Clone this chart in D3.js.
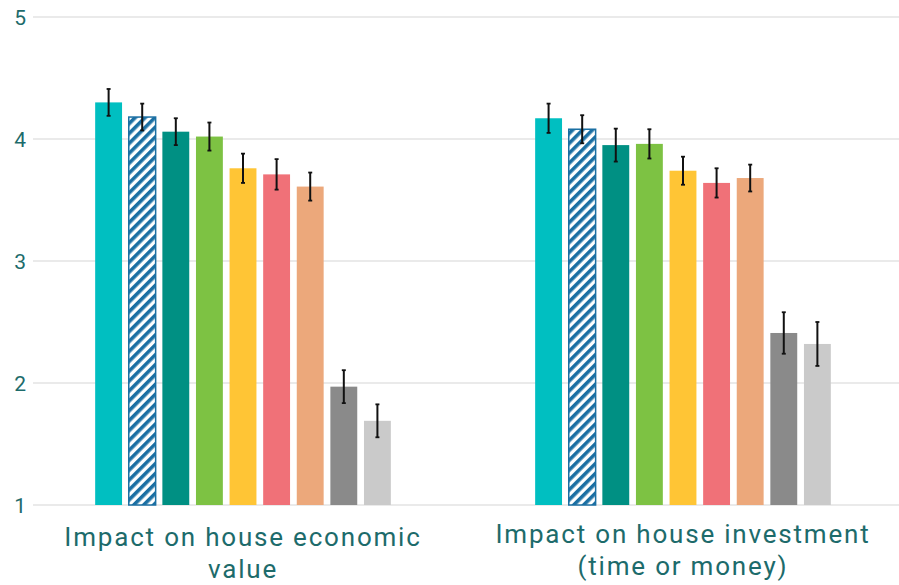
<!DOCTYPE html>
<html>
<head>
<meta charset="utf-8">
<script src="https://cdn.jsdelivr.net/npm/d3@7"></script>
<style>
  html, body { margin: 0; padding: 0; background: #fff; }
  svg { display: block; }
  text { font-family: Roboto, "Open Sans", sans-serif; fill: #1d6b6b; }
</style>
</head>
<body>
<svg id="chart" width="899" height="585"></svg>
<script>
// Impact ratings (scale 1–5), nine respondent groups per question
const categories = [
  ["Impact on house economic", "value"],
  ["Impact on house investment", "(time or money)"]
];
const seriesKeys = ["s1", "s2", "s3", "s4", "s5", "s6", "s7", "s8", "s9"];
const economicValue   = [4.30, 4.18, 4.06, 4.02, 3.76, 3.71, 3.61, 1.97, 1.69];
const economicError   = [0.11, 0.11, 0.11, 0.115, 0.12, 0.125, 0.115, 0.135, 0.135];
const investmentValue = [4.17, 4.08, 3.95, 3.96, 3.74, 3.64, 3.68, 2.41, 2.32];
const investmentError = [0.12, 0.115, 0.135, 0.12, 0.115, 0.12, 0.11, 0.17, 0.18];
const yTicks = [1, 2, 3, 4, 5];
const seriesColors = ["#00bfc1", "url(#hatch)", "#009083", "#7dc243", "#ffc535",
                      "#f07178", "#eca87b", "#8a8a8a", "#cacaca"];

const values = [economicValue, investmentValue];
const errors = [economicError, investmentError];

const svg = d3.select("#chart");

// diagonal stripe fill for the second series
const defs = svg.append("defs");
const pat = defs.append("pattern")
  .attr("id", "hatch")
  .attr("patternUnits", "userSpaceOnUse")
  .attr("width", 7).attr("height", 7)
  .attr("patternTransform", "rotate(45)");
pat.append("rect").attr("width", 7).attr("height", 7).attr("fill", "#fff");
pat.append("rect").attr("width", 3.6).attr("height", 7).attr("fill", "#1b6fa3");

const y = d3.scaleLinear().domain([1, 5]).range([505, 17]);

const x0 = d3.scaleBand()
  .domain(d3.range(categories.length))
  .range([23, 903])
  .paddingInner(0.3127)
  .paddingOuter(0.1564);

const x1 = d3.scaleBand()
  .domain(seriesKeys)
  .range([0, x0.bandwidth()])
  .paddingInner(0.2)
  .paddingOuter(0.1);

// gridlines
svg.append("g")
  .selectAll("line")
  .data(yTicks)
  .join("line")
  .attr("x1", 33).attr("x2", 899)
  .attr("y1", d => y(d)).attr("y2", d => y(d))
  .attr("stroke", "#e3e3e3")
  .attr("stroke-width", 1.6);

// y tick labels
svg.append("g")
  .selectAll("text")
  .data(yTicks)
  .join("text")
  .attr("x", 26)
  .attr("y", d => y(d))
  .attr("dy", "0.36em")
  .attr("text-anchor", "end")
  .style("font-size", "21px")
  .text(d => d);

// bars
const groups = svg.append("g")
  .selectAll("g")
  .data(categories.map((c, i) => i))
  .join("g")
  .attr("transform", i => `translate(${x0(i)},0)`);

groups.selectAll("rect")
  .data(i => seriesKeys.map((k, j) => ({ k, j, v: values[i][j], e: errors[i][j] })))
  .join("rect")
  .attr("x", d => x1(d.k))
  .attr("y", d => y(d.v))
  .attr("width", x1.bandwidth())
  .attr("height", d => y(1) - y(d.v))
  .attr("fill", d => seriesColors[d.j])
  .attr("stroke", d => d.j === 1 ? "#1b6fa3" : "none")
  .attr("stroke-width", 1.5);

// error bars
const eb = groups.selectAll("g.err")
  .data(i => seriesKeys.map((k, j) => ({ k, j, v: values[i][j], e: errors[i][j] })))
  .join("g")
  .attr("class", "err")
  .attr("transform", d => `translate(${x1(d.k) + x1.bandwidth() / 2},0)`);

eb.append("line")
  .attr("y1", d => y(d.v + d.e)).attr("y2", d => y(d.v - d.e))
  .attr("stroke", "#111").attr("stroke-width", 2);
eb.append("line")
  .attr("x1", -2).attr("x2", 2)
  .attr("y1", d => y(d.v + d.e)).attr("y2", d => y(d.v + d.e))
  .attr("stroke", "#111").attr("stroke-width", 1.8);
eb.append("line")
  .attr("x1", -2).attr("x2", 2)
  .attr("y1", d => y(d.v - d.e)).attr("y2", d => y(d.v - d.e))
  .attr("stroke", "#111").attr("stroke-width", 1.8);

// category labels, two lines each
const labelBaseline = [546, 543];
svg.append("g")
  .selectAll("text")
  .data(categories.map((c, i) => ({ c, i })))
  .join("text")
  .attr("x", d => x0(d.i) + x0.bandwidth() / 2)
  .attr("y", d => labelBaseline[d.i])
  .attr("text-anchor", "middle")
  .style("font-size", "26px")
  .style("letter-spacing", "1.8px")
  .selectAll("tspan")
  .data(d => d.c.map((line, k) => ({ line, k, cx: x0(d.i) + x0.bandwidth() / 2 })))
  .join("tspan")
  .attr("x", d => d.cx)
  .attr("dy", d => d.k === 0 ? 0 : 32)
  .text(d => d.line);
</script>
</body>
</html>
